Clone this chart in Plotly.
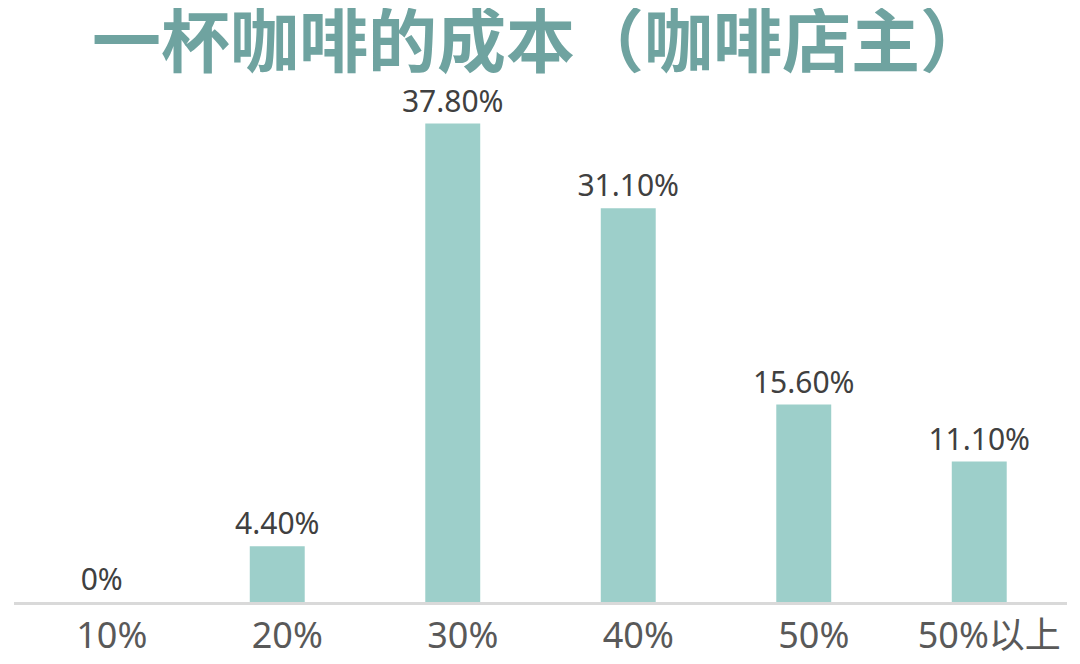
import plotly.graph_objects as go

categories = ["10%", "20%", "30%", "40%", "50%", "50%以上"]
values = [0, 4.4, 37.8, 31.1, 15.6, 11.1]
value_labels = ["0%", "4.40%", "37.80%", "31.10%", "15.60%", "11.10%"]
title_text = "一杯咖啡的成本（咖啡店主）"

font_family = "Noto Sans, Noto Sans CJK SC, sans-serif"

# the page body has an 8px default margin, so the figure is 8px smaller
W, H = 1072, 656

fig = go.Figure(
    go.Bar(
        x=categories,
        y=values,
        text=value_labels,
        texttemplate="%{text}",
        textposition="outside",
        constraintext="none",
        cliponaxis=False,
        marker=dict(color="#9DCFCA", line=dict(width=0)),
        textfont=dict(family=font_family, size=30, color="#404040"),
        hoverinfo="skip",
    )
)

fig.update_layout(
    width=W,
    height=H,
    margin=dict(l=6, r=13, t=82, b=62, autoexpand=False),
    paper_bgcolor="white",
    plot_bgcolor="white",
    bargap=0.687,
    showlegend=False,
    title=dict(
        text=title_text,
        x=0.5,
        xanchor="center",
        xref="paper",
        y=1 - 35 / H,
        yref="container",
        yanchor="middle",
        automargin=False,
        font=dict(family="Noto Sans CJK SC", size=69, color="#6FA3A0", weight=700),
    ),
    xaxis=dict(
        showgrid=False,
        showline=True,
        linecolor="#D9D9D9",
        linewidth=2.5,
        ticks="",
        ticklabelshift=10,
        automargin=False,
        tickfont=dict(family=font_family, size=36, color="#595959"),
        fixedrange=True,
    ),
    yaxis=dict(
        range=[0, 40.45],
        visible=False,
        showgrid=False,
        zeroline=False,
        automargin=False,
        fixedrange=True,
    ),
)

fig.write_html("out.html")
